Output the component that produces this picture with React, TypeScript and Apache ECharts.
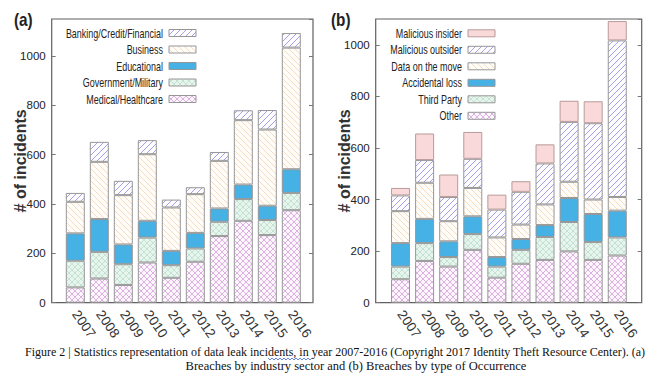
import React, { useEffect, useRef } from "react";
import * as echarts from "echarts";

const years = ["2007", "2008", "2009", "2010", "2011", "2012", "2013", "2014", "2015", "2016"];

// (a) Breaches by industry sector
const medical = [62, 98, 72, 163, 101, 166, 270, 332, 274, 375];
const government = [108, 108, 84, 101, 51, 54, 58, 88, 61, 70];
const educational = [111, 133, 80, 68, 58, 63, 54, 59, 58, 96];
const business = [128, 232, 200, 270, 176, 157, 193, 261, 309, 493];
const banking = [36, 81, 58, 57, 32, 28, 36, 40, 79, 59];

// (b) Breaches by type of occurrence
const other = [91, 162, 140, 205, 97, 151, 166, 199, 166, 183];
const thirdParty = [49, 69, 37, 61, 43, 54, 89, 114, 69, 70];
const accidental = [91, 94, 61, 69, 37, 42, 46, 93, 109, 104];
const dataMove = [124, 140, 78, 110, 76, 56, 80, 63, 56, 53];
const malOutsider = [61, 88, 94, 113, 108, 127, 159, 232, 296, 607];
const malInsider = [29, 103, 87, 104, 58, 41, 74, 82, 85, 75];

const legendA = ["Banking/Credit/Financial", "Business", "Educational", "Government/Military", "Medical/Healthcare"];
const legendB = ["Malicious insider", "Malicious outsider", "Data on the move", "Accidental loss", "Third Party", "Other"];

const caption1 =
  "Figure 2 | Statistics representation of data leak incidents, in year 2007-2016 (Copyright 2017 Identity Theft Resource Center). (a)";
const caption2 = "Breaches by industry sector and (b) Breaches by type of Occurrence";

const SANS = "'Liberation Sans', Arial, sans-serif";
const SERIF = "'Liberation Serif', 'Times New Roman', serif";

function pattern(bg: string, stroke: string, kind: "fwd" | "back" | "cross", sw = 1) {
  const fwd = "M0,6 L6,0 M-1,1 L1,-1 M5,7 L7,5";
  const back = "M0,0 L6,6 M-1,5 L1,7 M5,-1 L7,1";
  const d = kind === "fwd" ? fwd : kind === "back" ? back : fwd + " " + back;
  const svg =
    `<svg xmlns="http://www.w3.org/2000/svg" width="6" height="6">` +
    `<rect width="6" height="6" fill="${bg}"/>` +
    `<path d="${d}" stroke="${stroke}" stroke-width="${sw}" fill="none"/></svg>`;
  return {
    image: "data:image/svg+xml;charset=utf-8," + encodeURIComponent(svg),
    repeat: "repeat",
    imageWidth: 6,
    imageHeight: 6,
  } as any;
}

const fillFwd = pattern("#fdfdff", "#a6a1e6", "fwd", 1);
const fillBack = pattern("#fffdf9", "#f6dcbc", "back");
const fillBlue = "#45b1e5";
const fillGreen = pattern("#e8f5ee", "#c3e3d2", "cross");
const fillPink = pattern("#fdf7fd", "#dcb0e0", "cross");
const fillInsider = "#f9d9d9";

const BORDER = "#969696";
const INSIDER_BORDER = "#b89a9a";

const fillsA = [fillFwd, fillBack, fillBlue, fillGreen, fillPink];
const fillsB = [fillInsider, fillFwd, fillBack, fillBlue, fillGreen, fillPink];

function bar(name: string, data: number[], color: any, xi: number, yi: number, stack: string, border = BORDER) {
  return {
    type: "bar",
    name,
    data,
    xAxisIndex: xi,
    yAxisIndex: yi,
    stack,
    barWidth: 19,
    itemStyle: { color, borderColor: border, borderWidth: 1 },
  };
}

function frameY(gridIndex: number, max: number, right: boolean, withName: boolean) {
  return {
    type: "value",
    gridIndex,
    min: 0,
    max,
    interval: 200,
    position: right ? "right" : "left",
    axisLine: { show: false },
    axisTick: { show: true, inside: true, length: 4, lineStyle: { color: "#777" } },
    splitLine: { show: false },
    axisLabel: {
      show: !right,
      showMaxLabel: false,
      fontFamily: SANS,
      fontSize: 11.5,
      color: "#222",
      margin: 6,
      formatter: (v: number) => String(v),
    },
    name: withName ? "# of incidents" : "",
    nameLocation: "middle",
    nameGap: 23,
    nameMoveOverlap: false,
    nameTextStyle: { fontFamily: SANS, fontWeight: "bold", fontSize: 16, color: "#333" },
  };
}

function hiddenY(gridIndex: number, max: number) {
  return { type: "value", gridIndex, min: 0, max, show: false, splitLine: { show: false } };
}

function catX(gridIndex: number) {
  return {
    type: "category",
    gridIndex,
    data: years,
    axisLine: { show: false },
    axisTick: { show: false },
    axisLabel: {
      interval: 0,
      rotate: -55,
      margin: 9,
      fontFamily: SANS,
      fontSize: 13.5,
      color: "#333",
    },
  };
}

function legendGraphics(names: string[], fills: any[], iconRight: number, firstY: number, pitch: number, borders: string[]) {
  const out: any[] = [];
  names.forEach((n, i) => {
    const cy = firstY + i * pitch;
    out.push({
      type: "rect",
      shape: { x: iconRight - 27, y: cy - 3.5, width: 27, height: 7 },
      style: { fill: fills[i], stroke: borders[i], lineWidth: 1 },
    });
    out.push({
      type: "text",
      x: iconRight - 33,
      y: cy,
      scaleX: 0.69,
      style: { text: n, x: 0, y: 0, align: "right", verticalAlign: "middle", fontFamily: SANS, fontSize: 13, fill: "#222" },
    });
  });
  return out;
}

function squiggle(x0: number, x1: number, y: number) {
  const pts: number[][] = [];
  let up = true;
  for (let x = x0; x <= x1; x += 2) {
    pts.push([x, up ? y - 1 : y + 1]);
    up = !up;
  }
  return { type: "polyline", shape: { points: pts }, style: { stroke: "#3f63dd", lineWidth: 0.8, fill: "none" } };
}

export default function App() {
  const ref = useRef<HTMLDivElement>(null);
  useEffect(() => {
    if (!ref.current) return;
    const chart = echarts.init(ref.current, null, { renderer: "svg" });
    const top = 19;
    const height = 283.7;
    const option: any = {
      animation: false,
      backgroundColor: "#ffffff",
      grid: [
        { left: 51.7, top, width: 261.3, height, show: true, borderColor: "#606060", borderWidth: 1.2, backgroundColor: "transparent" },
        { left: 63.3, top, width: 240, height },
        { left: 375.7, top, width: 266, height, show: true, borderColor: "#606060", borderWidth: 1.2, backgroundColor: "transparent" },
        { left: 388.5, top, width: 240.8, height },
      ],
      xAxis: [
        { type: "value", gridIndex: 0, show: false },
        catX(1),
        { type: "value", gridIndex: 2, show: false },
        catX(3),
      ],
      yAxis: [
        frameY(0, 1150, false, true),
        frameY(0, 1150, true, false),
        hiddenY(1, 1150),
        frameY(2, 1100, false, true),
        frameY(2, 1100, true, false),
        hiddenY(3, 1100),
      ],
      series: [
        bar("Medical/Healthcare", medical, fillPink, 1, 2, "a"),
        bar("Government/Military", government, fillGreen, 1, 2, "a"),
        bar("Educational", educational, fillBlue, 1, 2, "a"),
        bar("Business", business, fillBack, 1, 2, "a"),
        bar("Banking/Credit/Financial", banking, fillFwd, 1, 2, "a"),
        bar("Other", other, fillPink, 3, 5, "b"),
        bar("Third Party", thirdParty, fillGreen, 3, 5, "b"),
        bar("Accidental loss", accidental, fillBlue, 3, 5, "b"),
        bar("Data on the move", dataMove, fillBack, 3, 5, "b"),
        bar("Malicious outsider", malOutsider, fillFwd, 3, 5, "b"),
        bar("Malicious insider", malInsider, fillInsider, 3, 5, "b", INSIDER_BORDER),
      ],
      graphic: [
        ...legendGraphics(legendA, fillsA, 196, 33, 16.5, legendA.map(() => BORDER)),
        ...legendGraphics(legendB, fillsB, 495, 33.3, 16.5, legendB.map((_, i) => (i === 0 ? INSIDER_BORDER : BORDER))),
        { type: "text", x: 14, y: 11, scaleX: 0.85, style: { text: "(a)", fontFamily: SANS, fontWeight: "bold", fontSize: 18, fill: "#222" } },
        { type: "text", x: 331, y: 11, scaleX: 0.85, style: { text: "(b)", fontFamily: SANS, fontWeight: "bold", fontSize: 18, fill: "#222" } },
        {
          type: "text",
          x: 335,
          y: 352,
          style: { text: caption1, fontFamily: SERIF, fontSize: 12, fill: "#111", align: "center", verticalAlign: "middle" },
        },
        {
          type: "text",
          x: 356,
          y: 366,
          style: { text: caption2, fontFamily: SERIF, fontSize: 12.5, fill: "#111", align: "center", verticalAlign: "middle" },
        },
        squiggle(268, 312, 359),
      ],
    };
    chart.setOption(option);
    return () => chart.dispose();
  }, []);
  return <div ref={ref} style={{ position: "absolute", left: 0, top: 0, width: 660, height: 379 }} />;
}
